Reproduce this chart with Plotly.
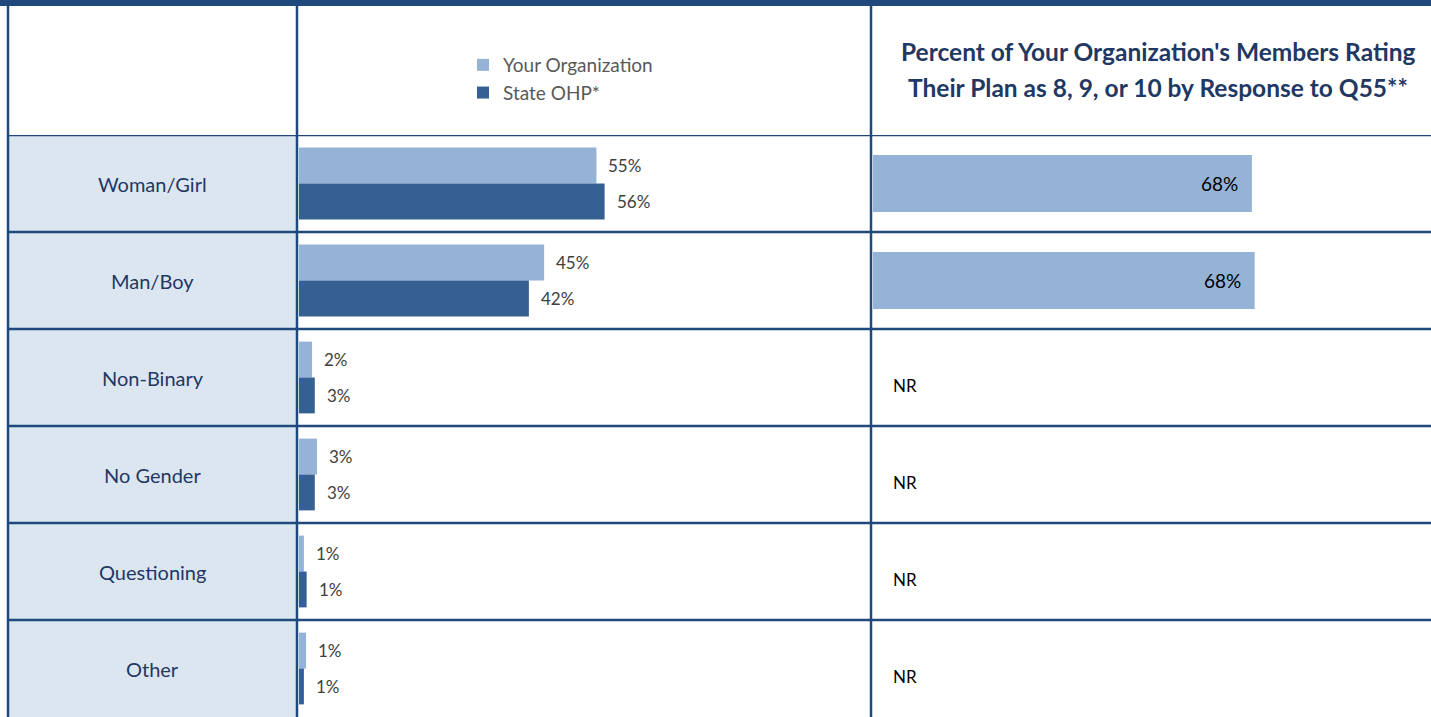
import plotly.graph_objects as go

categories = ["Woman/Girl", "Man/Boy", "Non-Binary", "No Gender", "Questioning", "Other"]
your_org = [54.6, 45.0, 2.4, 3.3, 0.9, 1.3]
state_ohp = [56.1, 42.2, 2.9, 2.9, 1.4, 0.9]
rating_8_10 = [67.9, 68.4, None, None, None, None]

series_names = ["Your Organization", "State OHP*"]
header_lines = ["Percent of Your Organization's Members Rating",
                "Their Plan as 8, 9, or 10 by Response to Q55**"]

LIGHT = "#95B3D7"
DARK = "#366092"
NAVY = "#1F497D"
TEXT_NAVY = "#1F3864"
CELL = "#DCE6F1"
FONT = "Lato"

W, H = 1431, 717
def px(x):
    return x / W
def py(y):
    return 1 - y / H

top_dom = py(135)

fig = go.Figure()
fig.add_trace(go.Bar(y=categories, x=your_org, orientation="h", name=series_names[0],
                     marker=dict(color=LIGHT, line=dict(width=0)), xaxis="x", yaxis="y",
                     hoverinfo="skip"))
fig.add_trace(go.Bar(y=categories, x=state_ohp, orientation="h", name=series_names[1],
                     marker=dict(color=DARK, line=dict(width=0)), xaxis="x", yaxis="y",
                     hoverinfo="skip"))
fig.add_trace(go.Bar(y=categories, x=rating_8_10, orientation="h", showlegend=False,
                     marker=dict(color=LIGHT, line=dict(width=0)), xaxis="x2", yaxis="y",
                     width=0.59, hoverinfo="skip"))

annotations = []
# category labels
for c in categories:
    annotations.append(dict(x=px(152.5), y=c, xref="paper", yref="y", text=c, showarrow=False,
                            xanchor="center", yanchor="middle",
                            font=dict(family=FONT, size=20, color=TEXT_NAVY)))
# value labels for left bars
for vals, shift in ((your_org, 18), (state_ohp, -18)):
    for c, v in zip(categories, vals):
        annotations.append(dict(x=v, y=c, xref="x", yref="y", text=f"{v:.0f}%", showarrow=False,
                                xanchor="left", yanchor="middle", xshift=10, yshift=shift,
                                font=dict(family=FONT, size=17, color="#404040")))
# right panel labels / NR
for c, v in zip(categories, rating_8_10):
    if v is None:
        annotations.append(dict(x=0, y=c, xref="x2", yref="y", text="NR", showarrow=False,
                                xanchor="left", yanchor="middle", xshift=18, yshift=-8,
                                font=dict(family=FONT, size=17, color="#000000")))
    else:
        annotations.append(dict(x=v, y=c, xref="x2", yref="y", text=f"{v:.0f}%", showarrow=False,
                                xanchor="right", yanchor="middle", xshift=-12, yshift=0,
                                font=dict(family=FONT, size=19, color="#000000")))
# header (two lines)
for line, yy in zip(header_lines, (52, 88)):
    annotations.append(dict(x=px(1158), y=py(yy), xref="paper", yref="paper", text=line,
                            showarrow=False, xanchor="center", yanchor="middle",
                            font=dict(family=FONT, size=24.5, color=TEXT_NAVY, weight="bold")))

shapes = []
# label column fill
shapes.append(dict(type="rect", xref="paper", yref="paper", x0=px(8), x1=px(297), y0=0, y1=top_dom,
                   fillcolor=CELL, line=dict(width=0), layer="below"))
# top band
shapes.append(dict(type="rect", xref="paper", yref="paper", x0=0, x1=1, y0=py(6), y1=1,
                   fillcolor=NAVY, line=dict(width=0), layer="above"))
# horizontal row lines
for i in range(len(categories)):
    shapes.append(dict(type="line", xref="paper", yref="y", x0=px(8), x1=1, y0=i - 0.5, y1=i - 0.5,
                       line=dict(color=NAVY, width=2.5), layer="above"))
# vertical lines
for xv in (8, 297, 871):
    shapes.append(dict(type="line", xref="paper", yref="paper", x0=px(xv), x1=px(xv), y0=0, y1=py(5),
                       line=dict(color=NAVY, width=2.5), layer="above"))

fig.update_layout(
    width=W, height=H,
    margin=dict(l=0, r=0, t=0, b=0),
    paper_bgcolor="white", plot_bgcolor="rgba(0,0,0,0)",
    barmode="group", bargap=0.26, bargroupgap=0,
    xaxis=dict(domain=[px(299), px(871)], range=[0, 105], visible=False, fixedrange=True),
    xaxis2=dict(domain=[px(873), 1], range=[0, 100], visible=False, fixedrange=True, anchor="y"),
    yaxis=dict(domain=[0, top_dom], range=[len(categories) - 0.5, -0.5], visible=False,
               fixedrange=True),
    showlegend=True,
    legend=dict(x=px(463), y=py(46), xanchor="left", yanchor="top", orientation="v",
                font=dict(family=FONT, size=19, color="#595959"), bgcolor="rgba(0,0,0,0)",
                tracegroupgap=0, itemclick=False, itemdoubleclick=False),
    annotations=annotations,
    shapes=shapes,
    font=dict(family=FONT),
)

fig.write_html("out.html", config={"displayModeBar": False})
